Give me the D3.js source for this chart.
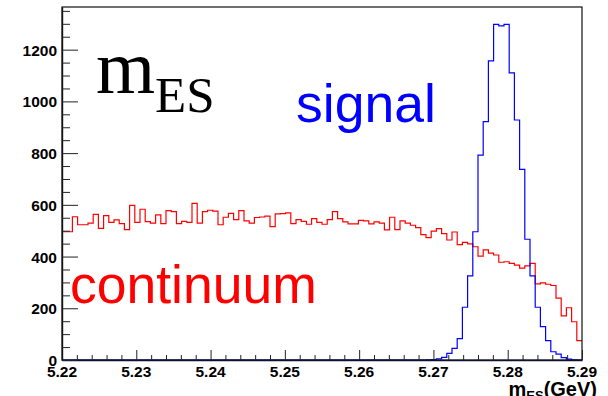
<!DOCTYPE html>
<html>
<head>
<meta charset="utf-8">
<script src="https://cdn.jsdelivr.net/npm/d3@7"></script>
<style>
  html, body { margin: 0; padding: 0; background: #fff; }
  svg { display: block; }
</style>
</head>
<body>
<svg id="chart" width="608" height="396"></svg>
<script>
// Histogram binning for m_ES (GeV)
const xMin = 5.22;
const xMax = 5.29;
const nBins = 100;

// Continuum background, entries per bin
const continuum = [
  496, 496, 554, 523, 523, 529, 563, 509, 558, 532,
  542, 527, 504, 598, 532, 583, 535, 529, 561, 527,
  578, 574, 527, 536, 532, 606, 529, 574, 579, 576,
  523, 552, 567, 543, 578, 538, 529, 551, 553, 556,
  516, 565, 566, 569, 527, 543, 536, 525, 547, 532,
  525, 543, 574, 547, 534, 526, 526, 540, 538, 526,
  534, 529, 503, 552, 504, 538, 529, 521, 512, 485,
  473, 498, 508, 489, 464, 495, 446, 455, 449, 438,
  402, 426, 413, 406, 378, 380, 374, 367, 355, 364,
  374, 294, 298, 293, 288, 239, 171, 202, 148, 75
];

// Signal peak, entries per bin
const signal = [
  0, 0, 0, 0, 0, 0, 0, 0, 0, 0,
  0, 0, 0, 0, 0, 0, 0, 0, 0, 0,
  0, 0, 0, 0, 0, 0, 0, 0, 0, 0,
  0, 0, 0, 0, 0, 0, 0, 0, 0, 0,
  0, 0, 0, 0, 0, 0, 0, 0, 0, 0,
  0, 0, 0, 0, 0, 0, 0, 0, 0, 0,
  0, 0, 0, 0, 0, 0, 0, 0, 0, 0,
  1, 2, 4, 10, 26, 45, 83, 204, 325, 496,
  792, 922, 1157, 1298, 1292, 1298, 1110, 928, 737, 467,
  325, 204, 129, 75, 32, 23, 9, 3, 1, 0
];

// Axis ticks and labels
const xMajorTicks = [5.22, 5.23, 5.24, 5.25, 5.26, 5.27, 5.28, 5.29];
const xTickLabels = ["5.22", "5.23", "5.24", "5.25", "5.26", "5.27", "5.28", "5.29"];
const yMajorTicks = [0, 200, 400, 600, 800, 1000, 1200];
const yTickLabels = ["0", "200", "400", "600", "800", "1000", "1200"];
const yMax = 1365;

const svg = d3.select("#chart");
const margin = { left: 62, right: 26, top: 7, bottom: 36 };
const W = 608, H = 396;

const x = d3.scaleLinear().domain([xMin, xMax]).range([margin.left, W - margin.right]);
const y = d3.scaleLinear().domain([0, yMax]).range([H - margin.bottom, margin.top]);

const binWidth = (xMax - xMin) / nBins;
const edges = d3.range(nBins + 1).map(i => xMin + i * binWidth);

function stepPoints(values) {
  const pts = values.map((v, i) => [edges[i], v]);
  pts.push([edges[nBins], values[nBins - 1]]);
  return pts;
}

const line = d3.line()
  .x(d => x(d[0]))
  .y(d => y(d[1]))
  .curve(d3.curveStepAfter);

const font = "'Liberation Sans', Arial, Helvetica, sans-serif";

// Histograms
svg.append("path")
  .attr("d", line(stepPoints(continuum)))
  .attr("fill", "none")
  .attr("stroke", "#ff0000")
  .attr("stroke-width", 1.2);

svg.append("path")
  .attr("d", line(stepPoints(signal)))
  .attr("fill", "none")
  .attr("stroke", "#0000ff")
  .attr("stroke-width", 1.2);

// Frame
svg.append("rect")
  .attr("x", x(xMin))
  .attr("y", y(yMax))
  .attr("width", x(xMax) - x(xMin))
  .attr("height", y(0) - y(yMax))
  .attr("fill", "none")
  .attr("stroke", "#111")
  .attr("stroke-width", 1.2);

// X axis: ticks point into the plot
const xAxis = d3.axisBottom(x)
  .tickValues(d3.range(0, 36).map(i => xMin + i * 0.002))
  .tickSizeInner(0).tickSizeOuter(0).tickFormat("");
const gx = svg.append("g").attr("transform", `translate(0,${y(0)})`).call(xAxis);
gx.select(".domain").attr("stroke", "#101030").attr("stroke-width", 1.4);
gx.selectAll(".tick line")
  .attr("y2", d => {
    const k = Math.round((d - xMin) / 0.002);
    return k % 5 === 0 ? -10 : -5;
  })
  .attr("stroke", "#222");

gx.selectAll(".xlab")
  .data(xMajorTicks)
  .enter().append("text")
  .attr("x", d => x(d))
  .attr("y", 17)
  .attr("text-anchor", "middle")
  .attr("font-family", font)
  .attr("font-weight", "bold")
  .attr("font-size", 15.5)
  .attr("fill", "#000")
  .text((d, i) => xTickLabels[i]);

// Y axis: ticks point into the plot
const yAxis = d3.axisLeft(y)
  .tickValues(d3.range(0, 28).map(i => i * 50))
  .tickSizeInner(0).tickSizeOuter(0).tickFormat("");
const gy = svg.append("g").attr("transform", `translate(${x(xMin)},0)`).call(yAxis);
gy.select(".domain").attr("stroke", "#111").attr("stroke-width", 1.4);
gy.selectAll(".tick line")
  .attr("x2", d => (d % 200 === 0 ? 16 : 8))
  .attr("stroke", "#222");

gy.selectAll(".ylab")
  .data(yMajorTicks)
  .enter().append("text")
  .attr("x", -5)
  .attr("y", d => y(d) + 6)
  .attr("text-anchor", "end")
  .attr("font-family", font)
  .attr("font-weight", "bold")
  .attr("font-size", 15.5)
  .attr("fill", "#000")
  .text((d, i) => yTickLabels[i]);

// X axis title
const xt = svg.append("text")
  .attr("x", 597)
  .attr("y", 395.5)
  .attr("text-anchor", "end")
  .attr("font-family", font)
  .attr("font-weight", "bold")
  .attr("font-size", 20)
  .attr("fill", "#000");
xt.append("tspan").text("m");
xt.append("tspan").attr("font-size", 13).attr("dy", 4).text("ES");
xt.append("tspan").attr("dy", -4).text("(GeV)");

// Panel labels
svg.append("text")
  .attr("x", 96).attr("y", 93)
  .attr("font-family", "'Liberation Serif', 'Times New Roman', serif")
  .attr("font-size", 76)
  .attr("fill", "#000")
  .text("m");
svg.append("text")
  .attr("x", 155).attr("y", 112)
  .attr("font-family", "'Liberation Serif', 'Times New Roman', serif")
  .attr("font-size", 51)
  .attr("fill", "#000")
  .text("ES");

svg.append("text")
  .attr("x", 296).attr("y", 122)
  .attr("font-family", font)
  .attr("font-size", 53.5)
  .attr("fill", "#0000ff")
  .text("signal");

svg.append("text")
  .attr("x", 70).attr("y", 303)
  .attr("font-family", font)
  .attr("font-size", 53.5)
  .attr("fill", "#ff0000")
  .text("continuum");
</script>
</body>
</html>
